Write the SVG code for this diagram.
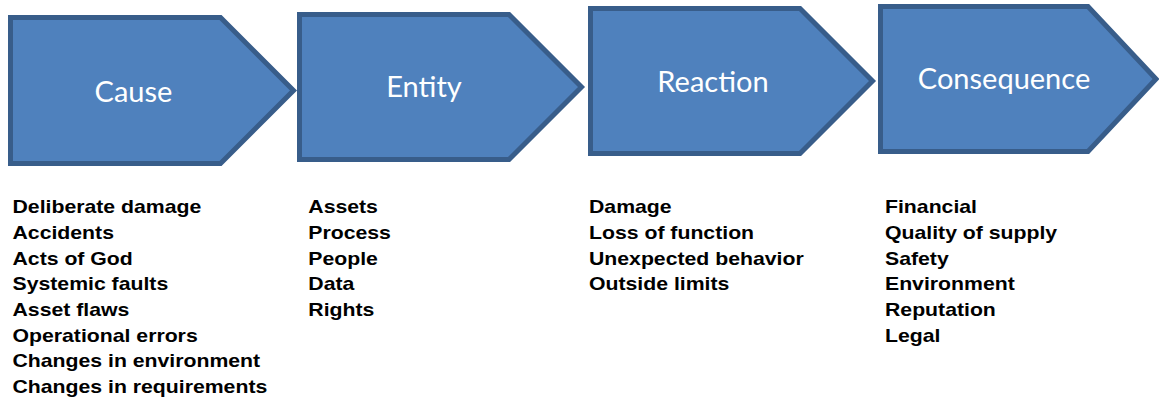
<svg xmlns="http://www.w3.org/2000/svg" width="1159" height="400" viewBox="0 0 1159 400">
  <style>
    .stage { fill: #4F81BD; stroke: #385D8A; stroke-width: 5; stroke-linejoin: miter; }
    .title { font-family: Lato, "Open Sans", "Liberation Sans", sans-serif; font-size: 29px; fill: #FFFFFF; text-anchor: middle; }
    .item { font-family: "Liberation Sans", Arial, sans-serif; font-size: 18px; font-weight: bold; fill: #000000; }
  </style>
  <rect width="1159" height="400" fill="#FFFFFF"/>

  <!-- Stage: Cause -->
  <g id="cause">
    <path class="stage" d="M10.5,17.5 L220.5,17.5 L293.5,90.5 L220.5,163.5 L10.5,163.5 Z"/>
    <text class="title" x="133.5" y="101.5">Cause</text>
    <g transform="translate(12.5,0) scale(1.18,1)">
      <text class="item" x="0" y="213.3">Deliberate damage</text>
      <text class="item" x="0" y="239">Accidents</text>
      <text class="item" x="0" y="264.7">Acts of God</text>
      <text class="item" x="0" y="290.4">Systemic faults</text>
      <text class="item" x="0" y="316.1">Asset flaws</text>
      <text class="item" x="0" y="341.8">Operational errors</text>
      <text class="item" x="0" y="367.5">Changes in environment</text>
      <text class="item" x="0" y="393.2">Changes in requirements</text>
    </g>
  </g>

  <!-- Stage: Entity -->
  <g id="entity">
    <path class="stage" d="M299.5,14.5 L509,14.5 L581.5,87 L509,159.5 L299.5,159.5 Z"/>
    <text class="title" x="424" y="96.7">Entity</text>
    <g transform="translate(308.3,0) scale(1.18,1)">
      <text class="item" x="0" y="213.3">Assets</text>
      <text class="item" x="0" y="239">Process</text>
      <text class="item" x="0" y="264.7">People</text>
      <text class="item" x="0" y="290.4">Data</text>
      <text class="item" x="0" y="316.1">Rights</text>
    </g>
  </g>

  <!-- Stage: Reaction -->
  <g id="reaction">
    <path class="stage" d="M590.5,8.5 L800,8.5 L872.5,81 L800,153.5 L590.5,153.5 Z"/>
    <text class="title" x="713" y="91.7">Reaction</text>
    <g transform="translate(589,0) scale(1.18,1)">
      <text class="item" x="0" y="213.3">Damage</text>
      <text class="item" x="0" y="239">Loss of function</text>
      <text class="item" x="0" y="264.7">Unexpected behavior</text>
      <text class="item" x="0" y="290.4">Outside limits</text>
    </g>
  </g>

  <!-- Stage: Consequence -->
  <g id="consequence">
    <path class="stage" d="M880.5,6.5 L1088,6.5 L1156,79 L1088,151.5 L880.5,151.5 Z"/>
    <text class="title" x="1004" y="88.5">Consequence</text>
    <g transform="translate(885,0) scale(1.18,1)">
      <text class="item" x="0" y="213.3">Financial</text>
      <text class="item" x="0" y="239">Quality of supply</text>
      <text class="item" x="0" y="264.7">Safety</text>
      <text class="item" x="0" y="290.4">Environment</text>
      <text class="item" x="0" y="316.1">Reputation</text>
      <text class="item" x="0" y="341.8">Legal</text>
    </g>
  </g>

  <!-- The stages abut each other; no separate connectors are drawn -->
  <g id="connectors"/>
</svg>
